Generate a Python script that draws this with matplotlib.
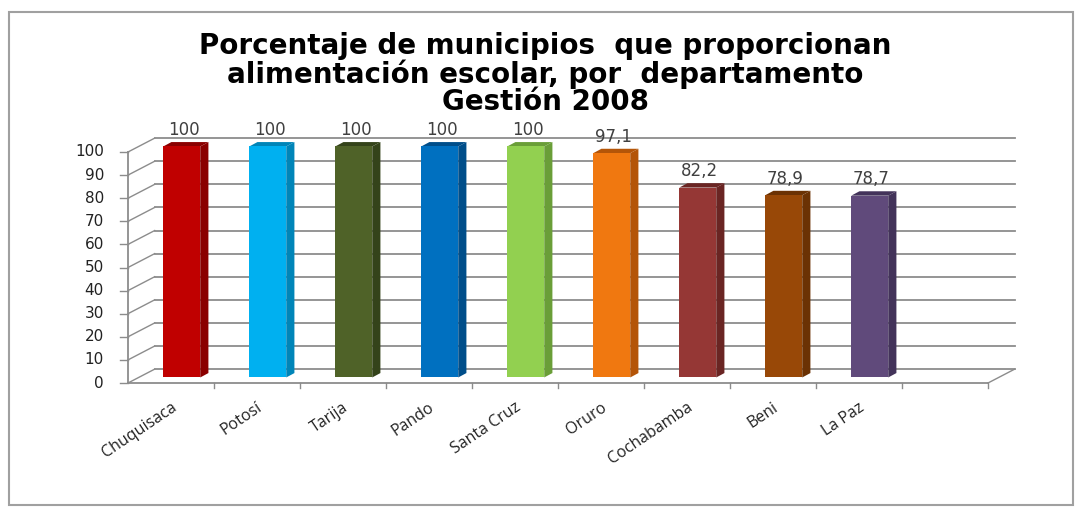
import matplotlib
matplotlib.use("Agg")
import matplotlib.pyplot as plt
from matplotlib.patches import Polygon, Rectangle

departamentos = ["Chuquisaca", "Potosí", "Tarija", "Pando", "Santa Cruz",
                 "Oruro", "Cochabamba", "Beni", "La Paz"]
porcentajes = [100, 100, 100, 100, 100, 97.1, 82.2, 78.9, 78.7]
etiquetas = ["100", "100", "100", "100", "100", "97,1", "82,2", "78,9", "78,7"]
colores = ["#C00000", "#00B0F0", "#4F6228", "#0070C0", "#92D050",
           "#F07810", "#953735", "#984807", "#604A7B"]
colores_lado = ["#8A0000", "#0085B8", "#34431A", "#004E8A", "#6A9E38",
                "#B45508", "#6A2523", "#6B3204", "#43335A"]
yticks = list(range(0, 101, 10))
n_slots = 10

# pseudo-3D geometry (data units: x = category slots, y = percent)
DX, DY = 0.31, 6.0        # back wall offset
BOX, BOY = 0.125, 2.4     # bar offset inside depth
W = 0.43                  # bar front width
SDX, SDY = 0.095, 1.9     # bar side depth

PX_X, PX_Y = 86.0, 2.31
X0, Y0 = 128, 383
fig = plt.figure(figsize=(10.77, 5.08), dpi=100)
ax = fig.add_axes([0, 0, 1, 1])
ax.set_xlim(-X0 / PX_X, (1077 - X0) / PX_X)
ax.set_ylim((Y0 - 508) / PX_Y, Y0 / PX_Y)
ax.axis("off")

grid_c = "#8C8C8C"
# back wall and left wall grid
for v in yticks:
    ax.plot([DX, n_slots + DX], [v + DY, v + DY], color=grid_c, lw=1.3, zorder=1)
    ax.plot([0, DX], [v, v + DY], color=grid_c, lw=1.0, zorder=1)
    ax.plot([-0.09, 0], [v, v], color=grid_c, lw=1.0, zorder=1)
    ax.text(-0.28, v, str(v), ha="right", va="center", fontsize=11,
            color="#222222", family="DejaVu Sans")

# axes lines
ax.plot([0, 0], [0, 100], color=grid_c, lw=1.3, zorder=1)
ax.plot([0, n_slots], [0, 0], color=grid_c, lw=1.3, zorder=1)
ax.plot([n_slots, n_slots + DX], [0, DY], color=grid_c, lw=1.0, zorder=1)
for k in range(1, n_slots + 1):
    ax.plot([k, k], [0, -2], color=grid_c, lw=1.0, zorder=1)

# bars
for i, (nombre, v, lab, c, cs) in enumerate(zip(departamentos, porcentajes,
                                                 etiquetas, colores, colores_lado)):
    xc = i + 0.5 + BOX
    x1, x2 = xc - W / 2, xc + W / 2
    yb, yt = BOY, v + BOY
    ax.add_patch(Polygon([(x2, yb), (x2 + SDX, yb + SDY), (x2 + SDX, yt + SDY), (x2, yt)],
                         closed=True, facecolor=cs, edgecolor="none", zorder=3))
    ax.add_patch(Polygon([(x1, yt), (x1 + SDX, yt + SDY), (x2 + SDX, yt + SDY), (x2, yt)],
                         closed=True, facecolor=cs, edgecolor="none", zorder=3))
    ax.add_patch(Rectangle((x1, yb), W, v, facecolor=c, edgecolor="none", zorder=4))
    ax.text(xc + 0.02, v + BOY + 7, lab, ha="center", va="center", fontsize=12,
            color="#404040", family="DejaVu Sans")
    ax.text(xc - 0.08, -10.0, nombre, ha="right", va="center", rotation=34,
            rotation_mode="anchor", fontsize=11.5, color="#222222", family="Open Sans")

# title
titulo = ["Porcentaje de municipios  que proporcionan",
          "alimentación escolar, por  departamento",
          "Gestión 2008"]
for k, linea in enumerate(titulo):
    fig.text(545 / 1077, 1 - (46 + 28 * k) / 508, linea, ha="center", va="center",
             fontsize=20, fontweight="bold", family="DejaVu Sans", color="black")

# outer frame
fig.add_artist(Rectangle((9 / 1077, 1 - 505 / 508), 1064 / 1077, 493 / 508,
                         transform=fig.transFigure, fill=False,
                         edgecolor="#A0A0A0", lw=1.5))

fig.savefig("out.png", dpi=100)
